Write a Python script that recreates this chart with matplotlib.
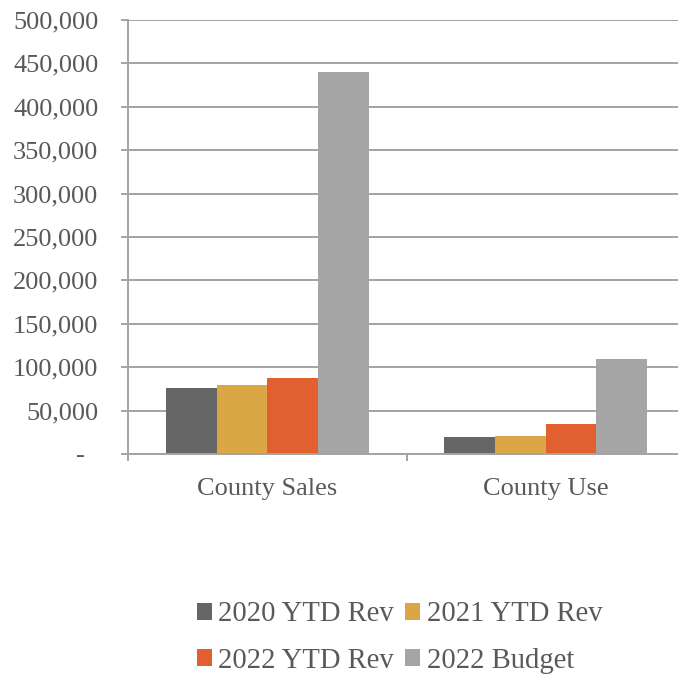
import matplotlib.pyplot as plt
import matplotlib.ticker as mticker
from matplotlib.patches import Patch
import numpy as np

plt.rcParams['font.family'] = ['Liberation Serif', 'DejaVu Serif']

categories = ['County Sales', 'County Use']
series_names = ['2020 YTD Rev', '2021 YTD Rev', '2022 YTD Rev', '2022 Budget']
rev_2020 = [76000, 20000]
rev_2021 = [79000, 21000]
rev_2022 = [88000, 35000]
budget_2022 = [440000, 110000]
colors = ['#666666', '#DAA646', '#E2602F', '#A5A5A5']

text_color = '#595959'
line_color = '#A3A3A3'

fig = plt.figure(figsize=(6.78, 6.77), dpi=100)
ax = fig.add_axes([0.1892, 0.3294, 0.8211, 0.6411])

x = np.arange(len(categories))
width = 0.182
all_series = [rev_2020, rev_2021, rev_2022, budget_2022]
handles = []
for i, (vals, c) in enumerate(zip(all_series, colors)):
    offset = (i - 1.5) * width
    ax.bar(x + offset, vals, width, color=c, zorder=3)
    handles.append(Patch(facecolor=c, label=series_names[i]))

ax.set_xlim(-0.5, 1.5)
ax.set_ylim(0, 500000)
ax.yaxis.set_major_locator(mticker.MultipleLocator(50000))
ax.yaxis.set_major_formatter(
    mticker.FuncFormatter(lambda v, p: '-  ' if v == 0 else f'{int(v):,}'))
ax.grid(axis='y', color=line_color, linewidth=1.4, zorder=0)

ax.set_xticks(x)
ax.set_xticklabels(categories)
ax.set_xticks([-0.5, 0.5, 1.5], minor=True)
ax.tick_params(axis='x', which='major', length=0, pad=17.5, labelsize=19, labelcolor=text_color)
ax.tick_params(axis='x', which='minor', length=5, width=1.4, color=line_color)
ax.tick_params(axis='y', length=5, width=1.4, color=line_color, pad=16.5,
               labelsize=19, labelcolor=text_color)

for side in ['top', 'right']:
    ax.spines[side].set_visible(False)
for side in ['left', 'bottom']:
    ax.spines[side].set_color(line_color)
    ax.spines[side].set_linewidth(1.4)
    ax.spines[side].set_zorder(4)

# column-first order so rows read 2020, 2021 / 2022, Budget
order = [0, 2, 1, 3]
fig.legend([handles[i] for i in order], [series_names[i] for i in order],
           loc='center', bbox_to_anchor=(399.5 / 678, 1 - 637.5 / 677), ncol=2,
           frameon=False, fontsize=20.6, labelcolor=text_color,
           handlelength=0.52, handleheight=0.52, handletextpad=0.24,
           columnspacing=0.38, labelspacing=0.7, borderpad=0, borderaxespad=0)

fig.savefig('out.png', dpi=100)
